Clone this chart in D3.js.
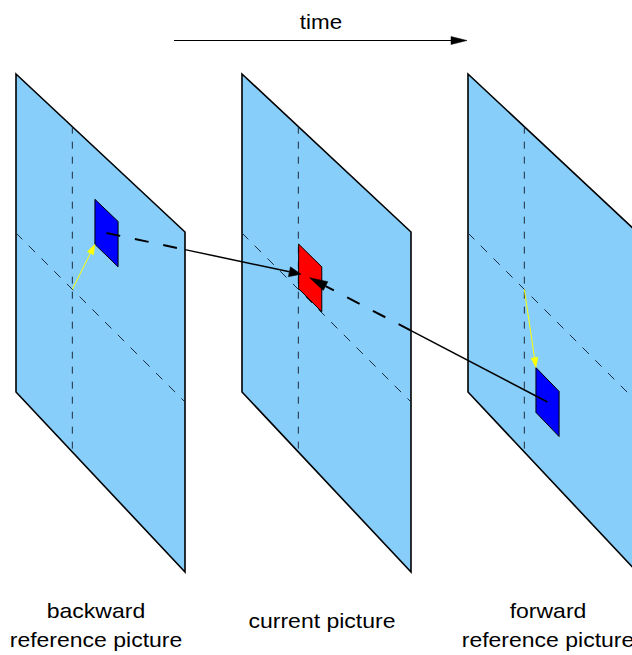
<!DOCTYPE html>
<html>
<head>
<meta charset="UTF-8">
<title>bi-prediction</title>
<style>
  body { margin: 0; background: #fff; }
  svg { display: block; }
  text {
    font-family: "Liberation Sans", Arial, sans-serif;
    font-size: 20px;
    fill: #000;
    text-anchor: middle;
  }
</style>
</head>
<body>
<svg id="fig" width="632" height="655"></svg>
<script src="https://d3js.org/d3.v7.min.js"></script>
<script>
// one plane per picture, in time order
var pictures = ["backward", "current", "forward"];
var labelLines = [["backward", "reference picture"], ["current picture"], ["forward", "reference picture"]];

// block position inside each picture (u across, v down, 0..1)
var blockU = [0.467, 0.335, 0.402];
var blockV = [0.157, 0.36, 0.704];
var blockSize = 0.137;
var blockColor = ["#0000ff", "#ff0000", "#0000ff"];

// co-located position (dashed cross) and where the motion vector ends
var gridU = 1 / 3, gridV = 0.5;
var mvCorner = ["bl", null, "tl"];

// prediction arrows: from block centre of a reference to a point in the current picture
var predFrom = [0, 2];
var predTip = [[0.35, 0.445], [0.40, 0.43]];

var svg = d3.select("#fig");

var xPic = d3.scaleLinear().domain([0, 2]).range([16, 468]);
var xU = d3.scaleLinear().domain([0, 1]).range([0, 169]);
var yTop = d3.scaleLinear().domain([0, 1]).range([74, 232]);
var yBot = d3.scaleLinear().domain([0, 1]).range([392, 572]);

function pt(i, u, v) {
    var t = yTop(u), b = yBot(u);
    return [xPic(i) + xU(u), t + (b - t) * v];
}

function quad(i, u0, v0, u1, v1) {
    return [pt(i, u0, v0), pt(i, u1, v0), pt(i, u1, v1), pt(i, u0, v1)];
}

var line = d3.line();

function head(g, from, tip, len, hw, color) {
    var dx = tip[0] - from[0], dy = tip[1] - from[1];
    var d = Math.sqrt(dx * dx + dy * dy);
    var ux = dx / d, uy = dy / d;
    var bx = tip[0] - ux * len, by = tip[1] - uy * len;
    g.append("path")
        .attr("d", line([tip, [bx - uy * hw, by + ux * hw], [bx + uy * hw, by - ux * hw]]) + "Z")
        .attr("fill", color)
        .attr("stroke", color)
        .attr("stroke-width", 0.5);
}

// time arrow
svg.append("text")
    .attr("transform", "translate(321,29) scale(1.12,1)")
    .text("time");
svg.append("line")
    .attr("x1", 174).attr("y1", 40.5).attr("x2", 455).attr("y2", 40.5)
    .attr("stroke", "#000").attr("stroke-width", 1);
head(svg, [174, 40.5], [467, 40.5], 16, 4, "#000");

// planes
var plane = svg.selectAll("g.plane")
    .data(pictures)
    .join("g")
    .attr("class", "plane");

plane.append("path")
    .attr("d", (d, i) => line(quad(i, 0, 0, 1, 1)) + "Z")
    .attr("fill", "#87cefa")
    .attr("stroke", "#000")
    .attr("stroke-width", 1.6)
    .attr("stroke-linejoin", "miter");

plane.append("path")
    .attr("d", (d, i) => line([pt(i, gridU, 0), pt(i, gridU, 1)]))
    .attr("fill", "none")
    .attr("stroke", "#1c2c3c")
    .attr("stroke-width", 1)
    .attr("stroke-dasharray", "7,8");

plane.append("path")
    .attr("d", (d, i) => line([pt(i, 0, gridV), pt(i, 1, gridV)]))
    .attr("fill", "none")
    .attr("stroke", "#1c2c3c")
    .attr("stroke-width", 1)
    .attr("stroke-dasharray", "9,9");

// blocks
plane.append("path")
    .attr("d", (d, i) => line(quad(i, blockU[i], blockV[i], blockU[i] + blockSize, blockV[i] + blockSize)) + "Z")
    .attr("fill", (d, i) => blockColor[i])
    .attr("stroke", "#000")
    .attr("stroke-width", 1);

// motion vectors (yellow)
pictures.forEach(function (p, i) {
    if (!mvCorner[i]) return;
    var from = pt(i, gridU, gridV);
    var v = mvCorner[i] === "bl" ? blockV[i] + blockSize : blockV[i];
    var tip = pt(i, blockU[i], v);
    var dx = tip[0] - from[0], dy = tip[1] - from[1];
    var d = Math.sqrt(dx * dx + dy * dy);
    svg.append("line")
        .attr("x1", from[0]).attr("y1", from[1])
        .attr("x2", tip[0] - dx / d * 8).attr("y2", tip[1] - dy / d * 8)
        .attr("stroke", "#ffff00").attr("stroke-width", 1);
    head(svg, from, tip, 10, 3.5, "#ffff00");
});

// prediction arrows (black), dashed while crossing a picture plane
predFrom.forEach(function (r, k) {
    var c = blockU[r] + blockSize / 2, m = blockV[r] + blockSize / 2;
    var from = pt(r, c, m);
    var tip = pt(1, predTip[k][0], predTip[k][1]);
    // split at the right edge of the plane the dashed part lies on
    var edgeX = r === 0 ? xPic(0) + xU(1) : xPic(1) + xU(1);
    var t = (edgeX - from[0]) / (tip[0] - from[0]);
    var mid = [edgeX, from[1] + t * (tip[1] - from[1])];
    var hl = r === 0 ? 12 : 18;
    var dx = tip[0] - from[0], dy = tip[1] - from[1];
    var d = Math.sqrt(dx * dx + dy * dy);
    var base = [tip[0] - dx / d * hl, tip[1] - dy / d * hl];
    var dashed = r === 0 ? [from, mid] : [mid, base];
    var solid = r === 0 ? [mid, base] : [from, mid];
    svg.append("path")
        .attr("d", line(dashed))
        .attr("fill", "none").attr("stroke", "#000").attr("stroke-width", 2)
        .attr("stroke-dasharray", "14,15");
    svg.append("path")
        .attr("d", line(solid))
        .attr("fill", "none").attr("stroke", "#000").attr("stroke-width", 1.5);
    head(svg, from, tip, hl, 5, "#000");
});

// labels
var labelY = [[618, 647], [628], [618, 647]];
plane.each(function (d, i) {
    var g = d3.select(this);
    labelLines[i].forEach(function (s, j) {
        g.append("text")
            .attr("transform", "translate(" + (xPic(i) + 80) + "," + labelY[i][j] + ") scale(1.15,1)")
            .text(s);
    });
});
</script>
</body>
</html>
